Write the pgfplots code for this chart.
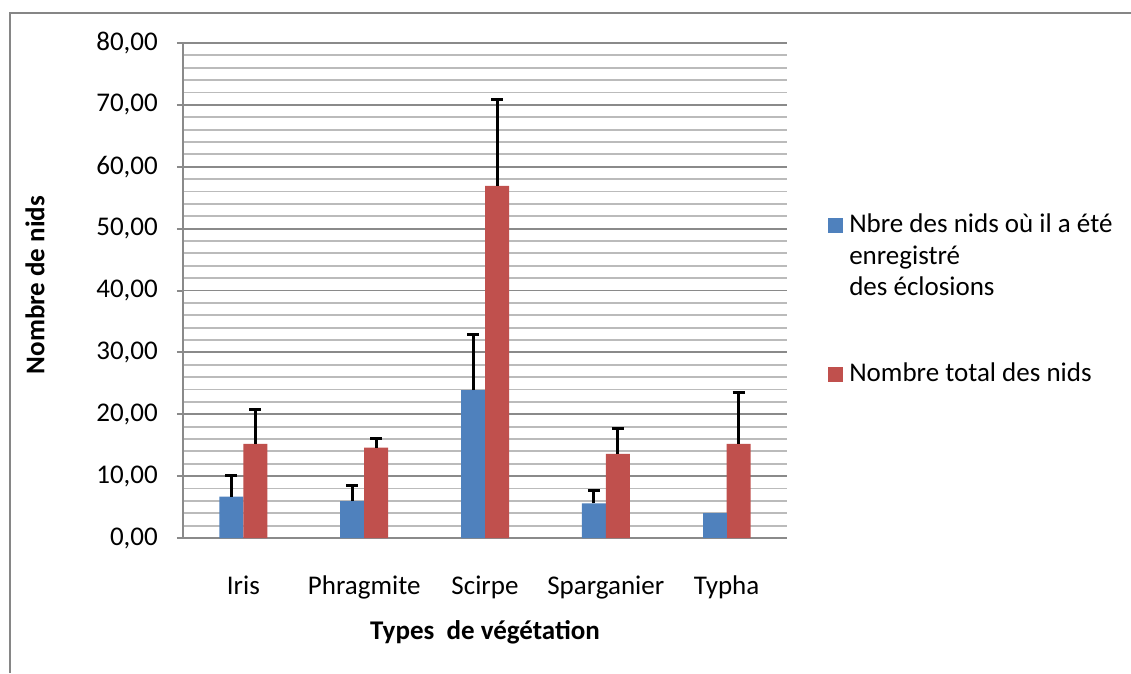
\documentclass[border=0pt]{standalone}
\usepackage{pgfplots}
\pgfplotsset{compat=1.18}
\usepackage{fontspec}
\setmainfont{Carlito}
\definecolor{cblue}{HTML}{4F81BD}
\definecolor{cred}{HTML}{C0504D}
\definecolor{gmaj}{HTML}{8A8A8A}
\definecolor{gmin}{HTML}{BBBBBB}
\definecolor{frame}{HTML}{868686}
\newcommand{\fs}{\fontsize{27}{31.5}\selectfont}
\begin{document}
\begin{tikzpicture}
\useasboundingbox (0,0) rectangle (1131pt,673pt);
\draw[frame, line width=2pt] (10pt,0pt) -- (10pt,660pt) -- (1131pt,660pt);
\begin{axis}[
  at={(183pt,135pt)}, anchor=south west,
  scale only axis, width=604pt, height=495pt,
  xmin=-0.5, xmax=4.5, ymin=0, ymax=80,
  axis lines*=left,
  axis line style={gmaj, line width=2pt},
  xtick={0,1,2,3,4},
  xticklabels={Iris,Phragmite,Scirpe,Sparganier,Typha},
  x tick style={draw=none},
  ytick={0,10,...,80},
  minor y tick num=4,
  ymajorgrids, yminorgrids,
  major grid style={gmaj, line width=1.8pt},
  minor grid style={gmin, line width=1.8pt},
  y tick style={gmaj, line width=2pt},
  tick align=outside, major tick length=6pt, minor tick length=0pt,
  tick label style={font=\fs},
  /pgf/number format/assume math mode=true,
  yticklabel style={/pgf/number format/fixed, /pgf/number format/fixed zerofill, /pgf/number format/precision=2, /pgf/number format/use comma, anchor=east, inner sep=0pt, xshift=-19pt},
  xticklabel style={anchor=base, inner sep=0pt, yshift=-50pt},
  xlabel={Types\ \ de végétation},
  ylabel={Nombre de nids},
  label style={font=\fs\bfseries},
  xlabel style={at={(axis description cs:0.5,-0.19)}, anchor=center},
  ylabel style={at={(axis description cs:-0.245,0.511)}, anchor=center},
  ybar, bar width=24pt,
  legend style={at={(axis description cs:1.068,0.666)}, anchor=north west,
    draw=none, fill=none, inner sep=0pt, row sep=125pt, column sep=4pt, font=\fs,
    cells={anchor=base west}},
  legend image code/.code={\fill[#1, draw=none] (0pt,0pt) rectangle (15pt,15pt);},
]
\addplot[fill=cblue, draw=none, bar shift=-12pt,
  error bars/.cd, y dir=plus, y explicit,
  error bar style={black, line width=3pt},
  error mark options={rotate=90, black, line width=3pt, mark size=6pt}]
  coordinates {(0,6.7) +- (0,3.45) (1,5.95) +- (0,2.6) (2,23.9) +- (0,9.0) (3,5.6) +- (0,2.05)};
\addlegendentry{\begin{tabular}[t]{@{}l@{}}Nbre des nids où il a été\\enregistré\\des éclosions\end{tabular}}
\addplot[fill=cred, draw=none, bar shift=12pt,
  error bars/.cd, y dir=plus, y explicit,
  error bar style={black, line width=3pt},
  error mark options={rotate=90, black, line width=3pt, mark size=6pt}]
  coordinates {(0,15.2) +- (0,5.55) (1,14.6) +- (0,1.55) (2,56.9) +- (0,14.0) (3,13.6) +- (0,4.1) (4,15.2) +- (0,8.3)};
\addlegendentry{Nombre total des nids}
\addplot[fill=cblue, draw=none, bar shift=-12pt, forget plot]
  coordinates {(4,4.0)};
\end{axis}
\end{tikzpicture}
\end{document}
